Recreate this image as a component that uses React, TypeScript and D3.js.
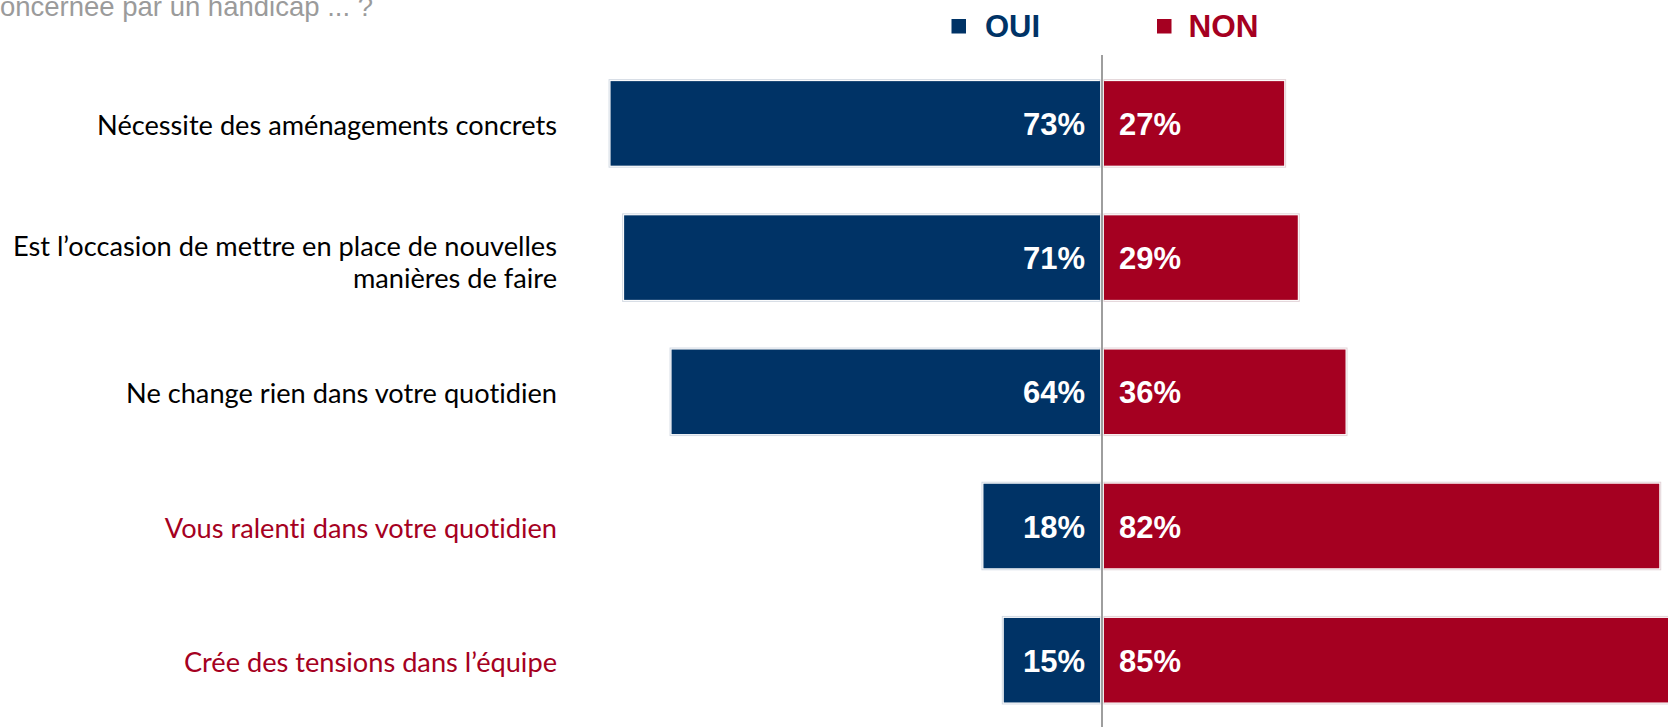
import React from "react";
import * as d3 from "d3";

const categories = [
  "Nécessite des aménagements concrets",
  "Est l’occasion de mettre en place de nouvelles|manières de faire",
  "Ne change rien dans votre quotidien",
  "Vous ralenti dans votre quotidien",
  "Crée des tensions dans l’équipe",
];
const highlighted = [false, false, false, true, true];
const ouiValues = [73, 71, 64, 18, 15];
const nonValues = [27, 29, 36, 82, 85];
const seriesNames = ["OUI", "NON"];
const titleText = "concernée par un handicap ... ?";

const W = 1668;
const H = 727;
const BLUE = "#003366";
const RED = "#a50021";
const ARIAL = "'Liberation Sans', Arial, sans-serif";
const LABEL_FONT = "Lato, 'Open Sans', sans-serif";

export default function App() {
  const y = d3
    .scaleBand<number>()
    .domain(d3.range(categories.length))
    .range([56.3, 727.3])
    .paddingInner(0.37)
    .paddingOuter(0.185);
  const xNeg = d3.scaleLinear().domain([0, 100]).range([1105.5, 427.5]);
  const xPos = d3.scaleLinear().domain([0, 100]).range([1100, 1782]);
  const axisX = 1102;
  const bw = y.bandwidth();

  const labelStyle = { fontVariantLigatures: "none" as const };

  return (
    <svg
      width={W}
      height={H}
      viewBox={`0 0 ${W} ${H}`}
      style={{ position: "absolute", left: 0, top: 0, background: "#fff" }}
    >
      <rect x={0} y={0} width={W} height={H} fill="#fff" />
      <text
        x={373}
        y={16}
        textAnchor="end"
        fontFamily={ARIAL}
        fontSize={27.5}
        fill="#9b9b9b"
      >
        {titleText}
      </text>

      {/* legend */}
      <rect x={951.5} y={19} width={14.5} height={14.5} fill={BLUE} />
      <text x={985} y={36.6} fontFamily={ARIAL} fontWeight="bold" fontSize={31} fill={BLUE}>
        {seriesNames[0]}
      </text>
      <rect x={1157} y={19} width={14.5} height={14.5} fill={RED} />
      <text x={1188.5} y={36.6} fontFamily={ARIAL} fontWeight="bold" fontSize={31.5} fill={RED}>
        {seriesNames[1]}
      </text>

      {categories.map((cat, i) => {
        const y0 = y(i)!;
        const cy = y0 + bw / 2;
        const lines = cat.split("|");
        const color = highlighted[i] ? RED : "#000";
        const bx = xNeg(ouiValues[i]);
        const rx = xPos(nonValues[i]);
        return (
          <g key={i}>
            <rect
              x={bx - 1.5}
              y={y0 - 1.5}
              width={1100 - bx + 1.5}
              height={bw + 3}
              fill="none"
              stroke="#d3dae3"
              strokeWidth={1}
            />
            <rect
              x={1104}
              y={y0 - 1.5}
              width={rx - 1104 + 1.5}
              height={bw + 3}
              fill="none"
              stroke="#e2d3d7"
              strokeWidth={1}
            />
            <rect x={bx} y={y0} width={1100 - bx} height={bw} fill={BLUE} />
            <rect x={1104} y={y0} width={rx - 1104} height={bw} fill={RED} />
            <text
              x={1085}
              y={cy + 11.5}
              textAnchor="end"
              fontFamily={ARIAL}
              fontWeight="bold"
              fontSize={31}
              fill="#fff"
            >
              {ouiValues[i]}%
            </text>
            <text x={1119} y={cy + 11.5} fontFamily={ARIAL} fontWeight="bold" fontSize={31} fill="#fff">
              {nonValues[i]}%
            </text>
            {lines.map((ln, j) => (
              <text
                key={j}
                x={557}
                y={lines.length === 1 ? cy + 11.5 : cy - 2 + j * 32.7}
                textAnchor="end"
                fontFamily={LABEL_FONT}
                fontSize={27.2}
                fill={color}
                style={labelStyle}
              >
                {ln}
              </text>
            ))}
          </g>
        );
      })}

      <line x1={axisX} x2={axisX} y1={55} y2={H} stroke="#9e9e9e" strokeWidth={2} />
    </svg>
  );
}
